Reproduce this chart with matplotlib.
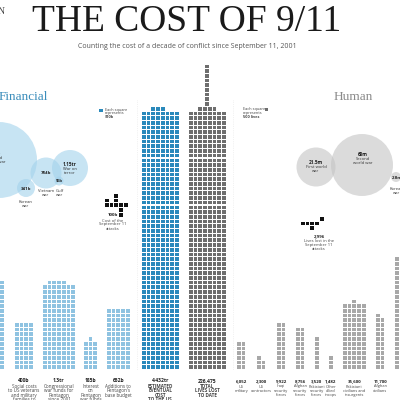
import math
import matplotlib
matplotlib.use("Agg")
import matplotlib.pyplot as plt
from matplotlib.patches import Rectangle, Circle
from matplotlib.collections import PatchCollection

# ---------------- data ----------------
fin_unit = 10      # $bn per square
life_unit = 500    # lives per square

fin_values = [950, 400, 1300, 185, 652]
fin_cols = [5, 4, 7, 3, 5]
fin_value_labels = ["950b", "400b", "1.3tr", "185b", "652b"]
fin_desc = [
    ["costs:"],
    ["Social costs", "to US veterans", "and military", "families to", "2050"],
    ["Congressional", "war funds for", "Pentagon", "since 2001"],
    ["Interest", "on", "Pentagon", "war funds"],
    ["Additions to", "Pentagon's", "base budget"],
]

total_cost = 4432
total_cost_label = "4.432tr"
total_cost_desc = ["ESTIMATED", "EVENTUAL", "COST", "TO THE US"]

total_lives = 226475
total_lives_label = "226,475"
total_lives_desc = ["TOTAL", "LIVES LOST", "TO DATE"]

life_values = [6052, 2300, 9922, 8756, 3520, 1482, 35600, 11700, 60000]
life_cols = [2, 2, 2, 2, 1, 1, 5, 2, 5]
life_value_labels = ["6,052", "2,300", "9,922", "8,756", "3,520", "1,482",
                     "35,600", "11,700", ""]
life_desc = [
    ["US", "military"],
    ["US", "contractors"],
    ["Iraqi", "security", "forces"],
    ["Afghan", "security", "forces"],
    ["Pakistani", "security", "forces"],
    ["Other", "allied", "troops"],
    ["Pakistani", "civilians and", "insurgents"],
    ["Afghan", "civilians"],
    [],
]

fin_wars = ["Second world war", "Korean war", "Vietnam war", "Gulf war", "War on terror"]
fin_war_values = ["4.1tr", "341b", "784b", "96b", "1.15tr"]
human_wars = ["First world war", "Second world war", "Korean war"]
human_war_values = ["21.5m", "60m", "2.8m"]

attack_cost = 100      # $bn
attack_lives = 2996

# ---------------- layout / style ----------------
PITCH = 4.7
SQ = 3.7
BASE = 370
fin_x0 = [-18.5, 15, 43, 84, 107]
fin_label_dx = [-6, 0, 0, 0, 0]
tower_x0 = [142, 189]
life_x0 = [237, 257, 277, 296, 315, 329, 343, 376, 395]

C_FIN = "#8fc3e1"
C_TOWER_B = "#2a89bb"
C_TOWER_G = "#6e6e6e"
C_LIFE = "#a8a8a8"

sans = ["Open Sans", "DejaVu Sans"]
serif = ["Liberation Serif", "DejaVu Serif"]

fig = plt.figure(figsize=(4, 4), dpi=100)
ax = fig.add_axes([0, 0, 1, 1])
ax.set_xlim(0, 400)
ax.set_ylim(400, 0)
ax.axis("off")


def waffle(x0, n, ncols, color, base=BASE):
    rects = []
    full = n // ncols
    rem = n % ncols
    for i in range(n):
        row = i // ncols
        col = i % ncols
        if row == full and rem:
            col += (ncols - rem) // 2
        x = x0 + col * PITCH
        y = base - (row + 1) * PITCH
        rects.append(Rectangle((x, y), SQ, SQ))
    ax.add_collection(PatchCollection(rects, facecolor=color, edgecolor="none"))
    rows = full + (1 if rem else 0)
    return base - rows * PITCH


def nsq(v, unit):
    return int(math.floor(v / unit + 0.5))


def labels(cx, value, desc, bold_desc=False, vs=3.6, ds=3.3):
    if value:
        ax.text(cx, 381, value, ha="center", va="center", fontsize=vs,
                fontweight="bold", family=sans, color="#222")
    for k, line in enumerate(desc):
        ax.text(cx, 386.5 + k * 4.4, line, ha="center", va="center",
                fontsize=ds, fontweight="bold" if bold_desc else "normal",
                family=sans, color="#444")


def width(c):
    return c * PITCH - (PITCH - SQ)


# financial bars
for x0, v, c, lab, d, dx in zip(fin_x0, fin_values, fin_cols, fin_value_labels,
                                fin_desc, fin_label_dx):
    waffle(x0, nsq(v, fin_unit), c, C_FIN)
    labels(x0 + width(c) / 2 + dx, lab, d)

# blue tower
nb = nsq(total_cost, fin_unit)
waffle(tower_x0[0], nb, 8, C_TOWER_B)
labels(tower_x0[0] + width(8) / 2, total_cost_label, total_cost_desc, True)

# grey tower with antenna
ng = nsq(total_lives, life_unit)
antenna = 9
top = waffle(tower_x0[1], ng - antenna, 8, C_TOWER_G)
waffle(tower_x0[1] + 3.5 * PITCH, antenna, 1, C_TOWER_G, base=top)
labels(tower_x0[1] + width(8) / 2, total_lives_label, total_lives_desc, True)

# human bars
for x0, v, c, lab, d in zip(life_x0, life_values, life_cols, life_value_labels, life_desc):
    waffle(x0, nsq(v, life_unit), c, C_LIFE)
    labels(x0 + width(c) / 2, lab, d, vs=3.2, ds=2.8)

# faint guides
ax.plot([137, 137], [100, 370], color="#e6e6e6", lw=0.5, ls=":")
ax.plot([233, 233], [100, 370], color="#e6e6e6", lw=0.5, ls=":")

# ---------------- circles ----------------
fin_circles = [(-1, 160, 38), (26, 188, 9), (46, 173, 15.5), (59, 181, 4.5), (70, 168, 18)]
for (cx, cy, r) in fin_circles:
    ax.add_patch(Circle((cx, cy), r, facecolor="#a3d2ec", alpha=0.6, edgecolor="none"))
hum_circles = [(316, 167, 19.5), (362, 165, 31), (396, 177, 5)]
for (cx, cy, r) in hum_circles:
    ax.add_patch(Circle((cx, cy), r, facecolor="#c4c4c4", alpha=0.6, edgecolor="none"))


def ctext(x, y, val, lines):
    if val:
        ax.text(x, y, val, ha="center", va="center", fontsize=3.4, fontweight="bold",
                family=sans, color="#222")
    for k, l in enumerate(lines):
        ax.text(x, y + 4.2 * (k + 1), l, ha="center", va="center", fontsize=3.0,
                family=sans, color="#333")


ctext(-4, 154, fin_war_values[0], ["Second", "world war"])
ax.text(26, 189, fin_war_values[1], ha="center", va="center", fontsize=3.2,
        fontweight="bold", family=sans, color="#222")
ctext(26, 198, "", ["Korean", "war"])
ax.text(46, 173, fin_war_values[2], ha="center", va="center", fontsize=3.2,
        fontweight="bold", family=sans, color="#222")
ctext(46, 186.5, "", ["Vietnam", "war"])
ax.text(59, 181, fin_war_values[3], ha="center", va="center", fontsize=2.9,
        fontweight="bold", family=sans, color="#222")
ctext(59.5, 186.5, "", ["Gulf", "war"])
ctext(70, 165, fin_war_values[4], ["War on", "terror"])

ctext(316, 163, human_war_values[0], ["First world", "war"])
ctext(363, 155, human_war_values[1], ["Second", "world war"])
ax.text(397, 178, human_war_values[2], ha="center", va="center", fontsize=3.2,
        fontweight="bold", family=sans, color="#222")
ctext(397, 185, "", ["Korean", "war"])

# ---------------- legends ----------------
ax.add_patch(Rectangle((99, 108.5), 3.8, 3.8, facecolor=C_TOWER_B, edgecolor="none"))
for k, l in enumerate(["Each square", "represents", "$10b"]):
    ax.text(105, 109.5 + k * 3.8, l, ha="left", va="center", fontsize=2.8,
            family=sans, color="#444", fontweight="bold" if k == 2 else "normal")
ax.add_patch(Rectangle((264.5, 107.5), 3.8, 3.8, facecolor=C_TOWER_G, edgecolor="none"))
for k, l in enumerate(["Each square", "represents", "500 lives"]):
    ax.text(243, 109 + k * 3.8, l, ha="left", va="center", fontsize=2.8,
            family=sans, color="#444", fontweight="bold" if k == 2 else "normal")

# ---------------- 9/11 attack squares ----------------
attack_shape = [(0, 2), (1, 0), (1, 2), (2, 0), (2, 1), (2, 2), (2, 3), (2, 4), (3, 3), (4, 3)]
n_att = nsq(attack_cost, fin_unit)
rects = [Rectangle((105 + c * PITCH, 194 + r * PITCH), SQ, SQ) for (r, c) in attack_shape[:n_att]]
ax.add_collection(PatchCollection(rects, facecolor="#111", edgecolor="none"))
ax.text(113, 215.5, "100b", ha="center", va="center", fontsize=3.2, fontweight="bold",
        family=sans, color="#222")
for k, l in enumerate(["Cost of the", "September 11", "attacks"]):
    ax.text(113, 220.5 + k * 4.0, l, ha="center", va="center", fontsize=3.0,
            family=sans, color="#444")

life_shape = [(0, 4), (1, 0), (1, 1), (1, 2), (1, 3), (2, 2)]
n_lv = nsq(attack_lives, life_unit)
rects = [Rectangle((301 + c * PITCH, 217 + r * PITCH), SQ, SQ) for (r, c) in life_shape[:n_lv]]
ax.add_collection(PatchCollection(rects, facecolor="#111", edgecolor="none"))
ax.text(319, 236.5, "2,996", ha="center", va="center", fontsize=3.2, fontweight="bold",
        family=sans, color="#222")
for k, l in enumerate(["Lives lost in the", "September 11", "attacks"]):
    ax.text(319, 241 + k * 4.0, l, ha="center", va="center", fontsize=3.0,
            family=sans, color="#444")

# ---------------- titles ----------------
ax.text(187, 22, "THE COST OF 9/11", ha="center", va="center", fontsize=27,
        family=serif, color="#1a1a1a")
ax.text(187, 47, "Counting the cost of a decade of conflict since September 11, 2001",
        ha="center", va="center", fontsize=5.0, family=sans, color="#555")
ax.text(5, 12, "N", ha="right", va="center", fontsize=7, family=serif, color="#444")
ax.text(-1, 97, "Financial", ha="left", va="center", fontsize=9.5, family=serif,
        color="#3b8dbb")
ax.text(353, 97, "Human", ha="center", va="center", fontsize=9.5, family=serif,
        color="#8a8a8a")

fig.savefig("out.png", dpi=100, facecolor="white")
